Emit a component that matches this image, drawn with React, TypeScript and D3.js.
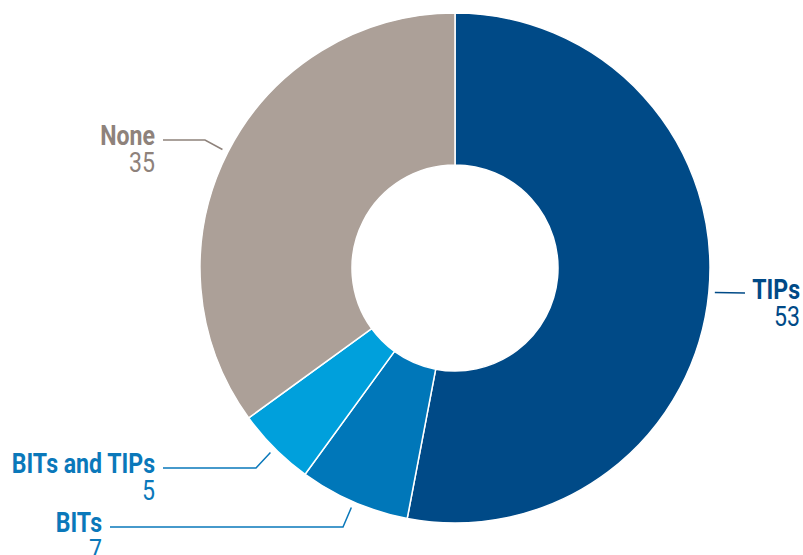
import React from "react";
import * as d3 from "d3";

const categories = ["TIPs", "BITs", "BITs and TIPs", "None"];
const values = [53, 7, 5, 35];
const sliceColors = ["#004a87", "#0077b9", "#00a0dc", "#aca098"];
const labelColors = ["#004a87", "#0a78ba", "#0a78ba", "#8e827b"];

// label layout: text anchor x, label baseline y, side, elbow x
const labelLayout = [
  { x: 800, y: 299, side: "right", elbow: 745 },
  { x: 102, y: 532, side: "left", elbow: 343 },
  { x: 155, y: 473, side: "left", elbow: 256 },
  { x: 155, y: 145, side: "left", elbow: 205 },
];

const W = 803;
const H = 555;
const cx = 455;
const cy = 268;
const outerR = 255;
const innerR = 103;

export default function App() {
  const pie = d3.pie<number>().sort(null).value((d) => d)(values);
  const arc = d3.arc<d3.PieArcDatum<number>>().innerRadius(innerR).outerRadius(outerR);
  const leaderR = 261;
  const leaderArc = d3.arc<d3.PieArcDatum<number>>().innerRadius(leaderR).outerRadius(leaderR);
  const fontFamily = "Roboto, 'Liberation Sans', sans-serif";
  const sx = 0.825;
  const fs = 28;

  return (
    <svg width={W} height={H} style={{ position: "absolute", left: 0, top: 0 }}>
      <g transform={`translate(${cx},${cy})`}>
        {pie.map((p, i) => (
          <path key={i} d={arc(p) || ""} fill={sliceColors[i]} stroke="#fff" strokeWidth={1.5} />
        ))}
      </g>
      {pie.map((p, i) => {
        const [ex, ey] = leaderArc.centroid(p);
        const px = cx + ex;
        const py = cy + ey;
        const L = labelLayout[i];
        const lineY = L.y - 5;
        let pts: [number, number][];
        if (L.side === "right") {
          pts = [
            [px, py],
            [L.elbow, lineY - 1],
          ];
        } else {
          pts = [
            [L.x + 8, lineY],
            [L.elbow, lineY],
            [px, py],
          ];
        }
        const col = labelColors[i];
        return (
          <g key={i}>
            <path d={d3.line()(pts) || ""} fill="none" stroke={col} strokeWidth={1.5} />
            <text
              transform={`translate(${L.x},${L.y}) scale(${sx},1)`}
              textAnchor="end"
              fontFamily={fontFamily}
              fontWeight={700}
              fontSize={fs}
              fill={col}
            >
              {categories[i]}
            </text>
            <text
              transform={`translate(${L.x},${L.y + 27}) scale(${sx},1)`}
              textAnchor="end"
              fontFamily={fontFamily}
              fontWeight={400}
              fontSize={fs}
              fill={col}
            >
              {values[i]}
            </text>
          </g>
        );
      })}
    </svg>
  );
}
